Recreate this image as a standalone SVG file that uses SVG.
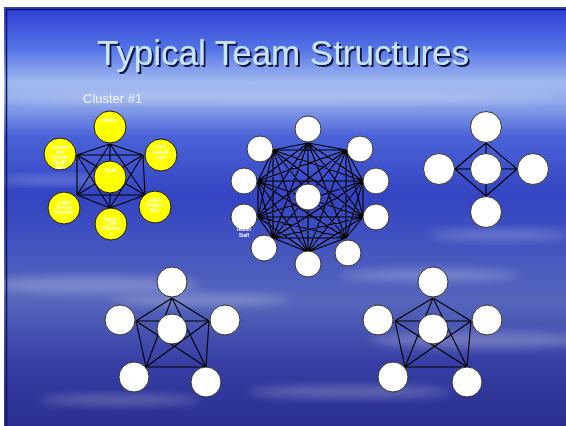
<svg xmlns="http://www.w3.org/2000/svg" width="566" height="426" viewBox="0 0 566 426">
<defs>
<linearGradient id="sky" x1="0" y1="0" x2="0" y2="1">
<stop offset="0" stop-color="#2e3ed6"/>
<stop offset="0.1" stop-color="#5474e6"/>
<stop offset="0.18" stop-color="#a2baf0"/>
<stop offset="0.23" stop-color="#8ea6ea"/>
<stop offset="0.31" stop-color="#4a62d8"/>
<stop offset="0.45" stop-color="#3444c2"/>
<stop offset="0.6" stop-color="#4858be"/>
<stop offset="0.7" stop-color="#5666bc"/>
<stop offset="0.85" stop-color="#363ea4"/>
<stop offset="1" stop-color="#2a2f90"/>
</linearGradient>
<filter id="blur" x="-20%" y="-50%" width="140%" height="200%"><feGaussianBlur stdDeviation="5"/></filter>
<filter id="shadow" x="-5%" y="-20%" width="110%" height="150%"><feDropShadow dx="2" dy="2" stdDeviation="0.4" flood-color="#141640" flood-opacity="1"/></filter>
<style>
.conn path{fill:none;stroke:#000;stroke-width:1.1}
.y circle{fill:#ffff00;stroke:#1a1a1a;stroke-width:1}
.w circle{fill:#fff;stroke:#333;stroke-width:1}
.yt{font-family:"Liberation Sans",Arial,sans-serif;font-size:4.6px;font-weight:bold;fill:#fff;text-anchor:middle}
.cloud{fill:#fff;filter:url(#blur)}
</style>
</defs>
<rect width="566" height="426" fill="#fff"/>
<rect x="4" y="7" width="562" height="419" fill="url(#sky)"/>
<g opacity="0.25">
<ellipse class="cloud" cx="90" cy="285" rx="110" ry="9"/>
<ellipse class="cloud" cx="200" cy="300" rx="90" ry="6"/>
<ellipse class="cloud" cx="480" cy="340" rx="110" ry="8"/>
<ellipse class="cloud" cx="350" cy="392" rx="100" ry="6"/>
<ellipse class="cloud" cx="120" cy="400" rx="80" ry="5"/>
<ellipse class="cloud" cx="430" cy="275" rx="90" ry="6"/>
<ellipse class="cloud" cx="60" cy="180" rx="70" ry="4"/>
<ellipse class="cloud" cx="500" cy="235" rx="70" ry="5"/>
<ellipse class="cloud" cx="280" cy="97" rx="280" ry="6"/>
</g>
<path d="M6.5,426V9.5H566" fill="none" stroke="#0e1450" stroke-width="1.5"/>
<text id="title" x="283" y="65" font-family="'Liberation Sans',Arial,sans-serif" font-size="35" text-anchor="middle" fill="#c8e4ff" filter="url(#shadow)" textLength="372" lengthAdjust="spacingAndGlyphs">Typical Team Structures</text>
<text id="cluster-label" x="83" y="103" font-family="'Liberation Sans',Arial,sans-serif" font-size="13" fill="#f2f4ff">Cluster #1</text>
<g class="conn" id="connectors">
<path d="M110,144L143,155M110,144L145,195M110,144L110,208M110,144L77,195M110,144L77,155M143,155L145,195M143,155L110,208M143,155L77,195M143,155L77,155M145,195L110,208M145,195L77,195M145,195L77,155M110,208L77,195M110,208L77,155M77,195L77,155"/>
<path d="M308,143L346,150M308,143L363,181M308,143L363,217M308,143L346,238M308,143L308,252M308,143L273,238M308,143L258,217M308,143L258,181M308,143L273,150M346,150L363,181M346,150L363,217M346,150L346,238M346,150L308,252M346,150L273,238M346,150L258,217M346,150L258,181M346,150L273,150M363,181L363,217M363,181L346,238M363,181L308,252M363,181L273,238M363,181L258,217M363,181L258,181M363,181L273,150M363,217L346,238M363,217L308,252M363,217L273,238M363,217L258,217M363,217L258,181M363,217L273,150M346,238L308,252M346,238L273,238M346,238L258,217M346,238L258,181M346,238L273,150M308,252L273,238M308,252L258,217M308,252L258,181M308,252L273,150M273,238L258,217M273,238L258,181M273,238L273,150M258,217L258,181M258,217L273,150M258,181L273,150"/>
<path d="M486,143L455,169M486,143L517,169M486,196L455,169M486,196L517,169M486,143L486,196M455,169L517,169" stroke="#161a40"/>
<path d="M172,298L136,321M172,298L209,321M172,298L146,367M172,298L206,367M136,321L209,321M136,321L146,367M136,321L206,367M209,321L146,367M209,321L206,367M146,367L206,367"/>
<path d="M433,298L395,321M433,298L471,321M433,298L405,367M433,298L467,367M395,321L471,321M395,321L405,367M395,321L467,367M471,321L405,367M471,321L467,367M405,367L467,367"/>
</g>
<g class="y">
<g id="mother"><circle cx="110" cy="127" r="16"/><text class="yt" x="110" y="122">Mother</text></g>
<g id="cpt"><circle cx="161" cy="155" r="16"/><text class="yt" x="161" y="149">CPT</text><text class="yt" x="161" y="154">Coordin</text><text class="yt" x="161" y="159">ator</text></g>
<g id="community"><circle cx="60" cy="154" r="16"/><text class="yt" x="60" y="148.5">Commu</text><text class="yt" x="60" y="153.5">nity</text><text class="yt" x="60" y="158.5">Mental</text><text class="yt" x="60" y="163.5">Health</text><text class="yt" x="60" y="168.5">Staff</text></g>
<g id="youth"><circle cx="110" cy="177" r="16"/><text class="yt" x="110" y="172">Youth</text></g>
<g id="legal"><circle cx="64" cy="208" r="16"/><text class="yt" x="64" y="203.5">Legal</text><text class="yt" x="64" y="208.5">Service</text><text class="yt" x="64" y="213.5">Provider</text><text class="yt" x="64" y="219.5">s</text></g>
<g id="child-welfare"><circle cx="155" cy="207" r="16"/><text class="yt" x="155" y="202">Child</text><text class="yt" x="155" y="207">Welfare</text><text class="yt" x="155" y="212">Rep.</text></g>
<g id="foster"><circle cx="111" cy="224" r="16"/><text class="yt" x="111" y="220.5">Foster</text><text class="yt" x="111" y="225">Care</text><text class="yt" x="111" y="230">Provider</text><text class="yt" x="111" y="235">s</text></g>
</g>
<g class="w">
<g id="big-top"><circle cx="308" cy="129" r="13"/></g>
<g id="big-tr"><circle cx="360" cy="149" r="13"/></g>
<g id="big-r1"><circle cx="376" cy="181" r="13"/></g>
<g id="big-r2"><circle cx="376" cy="217" r="13"/></g>
<g id="big-br"><circle cx="348" cy="253" r="13"/></g>
<g id="big-bottom"><circle cx="308" cy="264" r="13"/></g>
<g id="big-bl"><circle cx="264" cy="248" r="13"/></g>
<g id="big-l2"><circle cx="244" cy="217" r="13"/><text class="yt" x="244" y="231" font-weight="normal" fill="#e8ecff">Health</text><text class="yt" x="244" y="236.5" font-weight="normal" fill="#e8ecff">Staff</text></g>
<g id="big-l1"><circle cx="244" cy="181" r="13"/></g>
<g id="big-tl"><circle cx="260" cy="149" r="13"/></g>
<g id="big-center"><circle cx="308" cy="197" r="13"/></g>
<g id="d-top"><circle cx="486" cy="127" r="15.5"/></g>
<g id="d-left"><circle cx="439" cy="169" r="15.5"/></g>
<g id="d-center"><circle cx="486" cy="169" r="15.5"/></g>
<g id="d-right"><circle cx="533" cy="169" r="15.5"/></g>
<g id="d-bottom"><circle cx="486" cy="212" r="15.5"/></g>
<g id="p1-top"><circle cx="172" cy="282" r="15"/></g>
<g id="p1-left"><circle cx="120" cy="320" r="15"/></g>
<g id="p1-right"><circle cx="225" cy="320" r="15"/></g>
<g id="p1-center"><circle cx="172" cy="329" r="15"/></g>
<g id="p1-bl"><circle cx="134" cy="377" r="15"/></g>
<g id="p1-br"><circle cx="206" cy="382" r="15"/></g>
<g id="p2-top"><circle cx="433" cy="282" r="15"/></g>
<g id="p2-left"><circle cx="378" cy="320" r="15"/></g>
<g id="p2-right"><circle cx="487" cy="320" r="15"/></g>
<g id="p2-center"><circle cx="433" cy="329" r="15"/></g>
<g id="p2-bl"><circle cx="393" cy="377" r="15"/></g>
<g id="p2-br"><circle cx="467" cy="382" r="15"/></g>
</g>
</svg>
